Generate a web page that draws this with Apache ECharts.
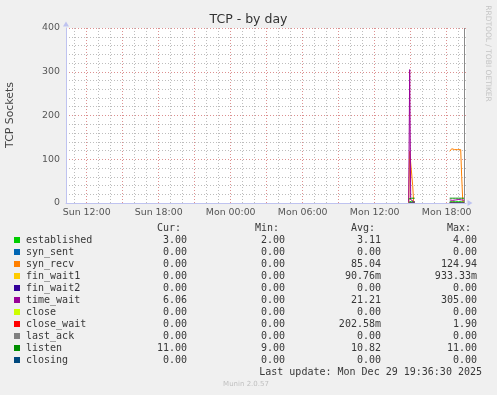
<!DOCTYPE html>
<html><head><meta charset="utf-8">
<script src="https://cdn.jsdelivr.net/npm/echarts@6/dist/echarts.min.js"></script>
<style>html,body{margin:0;padding:0;background:#f0f0f0}#c{width:497px;height:395px}</style>
</head><body><div id="c"></div>
<script>
// ---------- data ----------
const TITLE = 'TCP - by day';
const Y_NAME = 'TCP Sockets';
const X_START = 'Sun 10:16:30';
const X_END = 'Mon 19:36:30';
const X_TICK_LABELS = ['Sun 12:00', 'Sun 18:00', 'Mon 00:00', 'Mon 06:00', 'Mon 12:00', 'Mon 18:00'];
const Y_TICKS = [0, 100, 200, 300, 400];
const VRULE_TIME = 'Mon 19:30';

const SERIES_NAMES = ['established', 'syn_sent', 'syn_recv', 'fin_wait1', 'fin_wait2', 'time_wait', 'close', 'close_wait', 'last_ack', 'listen', 'closing'];
const SERIES_COLORS = ['#00CC00', '#0066B3', '#FF8000', '#FFCC00', '#330099', '#990099', '#CCFF00', '#FF0000', '#808080', '#008F00', '#00487D'];

const TIMES = ['Mon 14:50', 'Mon 14:55', 'Mon 15:00', 'Mon 15:05', 'Mon 15:10', 'Mon 15:15', 'Mon 15:20',
  'Mon 15:25',
  'Mon 18:15', 'Mon 18:20', 'Mon 18:25', 'Mon 18:30', 'Mon 18:35', 'Mon 18:40', 'Mon 18:45', 'Mon 18:50',
  'Mon 18:55', 'Mon 19:00', 'Mon 19:05', 'Mon 19:10', 'Mon 19:15', 'Mon 19:20', 'Mon 19:25', 'Mon 19:30'];

const established = [2, 3, 3, 4, 3, 3, 3, null, 3, 3, 4, 3, 3, 3, 3, 3, 4, 3, 3, 3, 3, 3, 3, 3];
const syn_sent    = [0, 0, 0, 0, 0, 0, 0, null, 0, 0, 0, 0, 0, 0, 0, 0, 0, 0, 0, 0, 0, 0, 0, 0];
const syn_recv    = [0, 118, 121, 120, 40, 0, 0, null, 118, 121, 124, 123, 122, 122, 122, 122, 122, 122, 122, 122, 60, 8, 0, 0];
const fin_wait1   = [0, 0, 0.93, 0, 0, 0, 0, null, 0, 0, 0, 0, 0, 0, 0, 0, 0.93, 0, 0, 0, 0, 0, 0, 0];
const fin_wait2   = [0, 0, 0, 0, 0, 0, 0, null, 0, 0, 0, 0, 0, 0, 0, 0, 0, 0, 0, 0, 0, 0, 0, 0];
const time_wait   = [2, 305, 8, 5, 4, 3, 3, null, 7, 8, 7, 6, 7, 8, 7, 6, 7, 8, 7, 6, 7, 6, 6, 6.06];
const close       = [0, 0, 0, 0, 0, 0, 0, null, 0, 0, 0, 0, 0, 0, 0, 0, 0, 0, 0, 0, 0, 0, 0, 0];
const close_wait  = [0, 1.9, 1, 0, 0, 0, 0, null, 0, 0, 0, 1.9, 0, 0, 0, 0, 0, 0, 1, 0, 0, 0, 0, 0];
const last_ack    = [0, 0, 0, 0, 0, 0, 0, null, 0, 0, 0, 0, 0, 0, 0, 0, 0, 0, 0, 0, 0, 0, 0, 0];
const listen      = [9, 11, 11, 11, 11, 11, 11, null, 11, 11, 11, 11, 11, 11, 11, 11, 11, 11, 11, 11, 11, 11, 11, 11];
const closing     = [0, 0, 0, 0, 0, 0, 0, null, 0, 0, 0, 0, 0, 0, 0, 0, 0, 0, 0, 0, 0, 0, 0, 0];
const SERIES_VALUES = [established, syn_sent, syn_recv, fin_wait1, fin_wait2, time_wait, close, close_wait, last_ack, listen, closing];

const CUR = ['3.00', '0.00', '0.00', '0.00', '0.00', '6.06', '0.00', '0.00', '0.00', '11.00', '0.00'];
const MIN = ['2.00', '0.00', '0.00', '0.00', '0.00', '0.00', '0.00', '0.00', '0.00', '9.00', '0.00'];
const AVG = ['3.11', '0.00', '85.04', '90.76m', '0.00', '21.21', '0.00', '202.58m', '0.00', '10.82', '0.00'];
const MAX = ['4.00', '0.00', '124.94', '933.33m', '0.00', '305.00', '0.00', '1.90', '0.00', '11.00', '0.00'];
const COL_HEADERS = ['Cur:', 'Min:', 'Avg:', 'Max:'];
const LAST_UPDATE = 'Last update: Mon Dec 29 19:36:30 2025';
const SIDE_TEXT = 'RRDTOOL / TOBI OETIKER';
const FOOTER = 'Munin 2.0.57';

// ---------- helpers ----------
function toHours(s) {
  const [d, hm] = s.split(' ');
  const p = hm.split(':').map(Number);
  return (d === 'Mon' ? 24 : 0) + p[0] + p[1] / 60 + (p[2] || 0) / 3600;
}
const xMin = toHours(X_START), xMax = toHours(X_END);
const hourTicks = [], majorTicks = [];
for (let h = Math.ceil(xMin); h <= xMax; h++) { hourTicks.push(h); if (h % 3 === 0) majorTicks.push(h); }
const labelVals = X_TICK_LABELS.map(toHours);

const L = 66, T = 28, W = 400, H = 175;
const minorColor = '#bdbdbd', majorColor = '#dc9090', axisColor = '#bfc3f0';
const dotted = [1, 2];

const series = SERIES_NAMES.map((n, i) => ({
  name: n, type: 'line', xAxisIndex: 0, yAxisIndex: 0,
  data: TIMES.map((t, k) => [toHours(t), SERIES_VALUES[i][k]]),
  showSymbol: false, symbol: 'none', connectNulls: false,
  lineStyle: { width: 1, color: SERIES_COLORS[i] }, itemStyle: { color: SERIES_COLORS[i] },
  animation: false, z: 3
}));
series.unshift({
  type: 'line', data: [], xAxisIndex: 0, yAxisIndex: 0, silent: true, animation: false, z: 2,
  markLine: { silent: true, symbol: 'none', label: { show: false }, animation: false,
    lineStyle: { color: '#8a8a8a', width: 1, type: 'solid' },
    data: [{ xAxis: toHours(VRULE_TIME) }] }
});

// ---------- graphics ----------
const g = [];
const mono = '10px "DejaVu Sans Mono"';
const txtColor = '#383838';
g.push({ type: 'text', style: { x: 248.5, y: 19.5, text: TITLE, font: '12.5px "DejaVu Sans"', fill: '#333', align: 'center', verticalAlign: 'middle' } });
g.push({ type: 'text', x: 10.5, y: 115, rotation: Math.PI / 2, style: { x: 0, y: 0, text: Y_NAME, font: '10.9px "DejaVu Sans"', fill: '#444', align: 'center', verticalAlign: 'middle' } });
g.push({ type: 'text', x: 487.5, y: 53.5, rotation: -Math.PI / 2, style: { x: 0, y: 0, text: SIDE_TEXT, font: '7.5px "DejaVu Sans"', fill: '#c4c4c4', align: 'center', verticalAlign: 'middle' } });
const colRight = [187, 285, 381, 477];
COL_HEADERS.forEach((h, j) => g.push({ type: 'text', style: { x: colRight[j] - 6, y: 228, text: h, font: mono, fill: txtColor, align: 'right', verticalAlign: 'middle' } }));
const cols = [CUR, MIN, AVG, MAX];
SERIES_NAMES.forEach((n, i) => {
  const y = 240 + 12 * i;
  g.push({ type: 'rect', shape: { x: 14, y: y - 3, width: 6, height: 6 }, style: { fill: SERIES_COLORS[i] } });
  g.push({ type: 'text', style: { x: 26, y: y, text: n, font: mono, fill: txtColor, align: 'left', verticalAlign: 'middle' } });
  cols.forEach((c, j) => g.push({ type: 'text', style: { x: colRight[j], y: y, text: c[i], font: mono, fill: txtColor, align: 'right', verticalAlign: 'middle' } }));
});
g.push({ type: 'text', style: { x: 482, y: 372, text: LAST_UPDATE, font: mono, fill: txtColor, align: 'right', verticalAlign: 'middle' } });
g.push({ type: 'text', style: { x: 246, y: 384, text: FOOTER, font: '7px "DejaVu Sans"', fill: '#c0c0c0', align: 'center', verticalAlign: 'middle' } });

const labelStyle = { color: '#555', fontSize: 9.4, fontFamily: 'DejaVu Sans' };
const option = {
  backgroundColor: '#f0f0f0',
  animation: false,
  grid: { left: L, top: T, width: W, height: H, show: true, backgroundColor: '#ffffff', borderWidth: 0 },
  xAxis: [
    { type: 'value', min: xMin, max: xMax, z: 5,
      axisLine: { show: true, onZero: false, lineStyle: { color: axisColor, width: 1 }, symbol: ['none', 'triangle'], symbolSize: [6, 5], symbolOffset: [0, 4] },
      axisTick: { show: false },
      axisLabel: { show: true, customValues: labelVals, margin: 5, ...labelStyle,
        formatter: v => { const k = labelVals.findIndex(x => Math.abs(x - v) < 1e-6); return k >= 0 ? X_TICK_LABELS[k] : ''; } },
      splitLine: { show: false } },
    { type: 'value', min: xMin, max: xMax, z: 0,
      axisLine: { show: false }, axisLabel: { show: false },
      axisTick: { show: false, customValues: hourTicks },
      splitLine: { show: true, lineStyle: { color: minorColor, type: dotted, width: 1 } } },
    { type: 'value', min: xMin, max: xMax, z: 1,
      axisLine: { show: false }, axisLabel: { show: false },
      axisTick: { show: false, customValues: majorTicks },
      splitLine: { show: true, lineStyle: { color: majorColor, type: dotted, width: 1 } } }
  ],
  yAxis: [
    { type: 'value', min: Y_TICKS[0], max: Y_TICKS[Y_TICKS.length - 1], interval: Y_TICKS[1] - Y_TICKS[0], z: 5,
      axisLine: { show: true, onZero: false, lineStyle: { color: axisColor, width: 1 }, symbol: ['none', 'triangle'], symbolSize: [6, 5], symbolOffset: [0, 4] },
      axisTick: { show: false },
      axisLabel: { show: true, margin: 6, ...labelStyle },
      splitLine: { show: true, lineStyle: { color: majorColor, type: dotted, width: 1 } } },
    { type: 'value', min: Y_TICKS[0], max: Y_TICKS[Y_TICKS.length - 1], interval: 20, z: 0,
      axisLine: { show: false }, axisLabel: { show: false }, axisTick: { show: false },
      splitLine: { show: true, lineStyle: { color: minorColor, type: dotted, width: 1 } } }
  ],
  series: series,
  graphic: g
};
const chart = echarts.init(document.getElementById('c'), null, { renderer: 'canvas' });
chart.setOption(option);
</script></body></html>
